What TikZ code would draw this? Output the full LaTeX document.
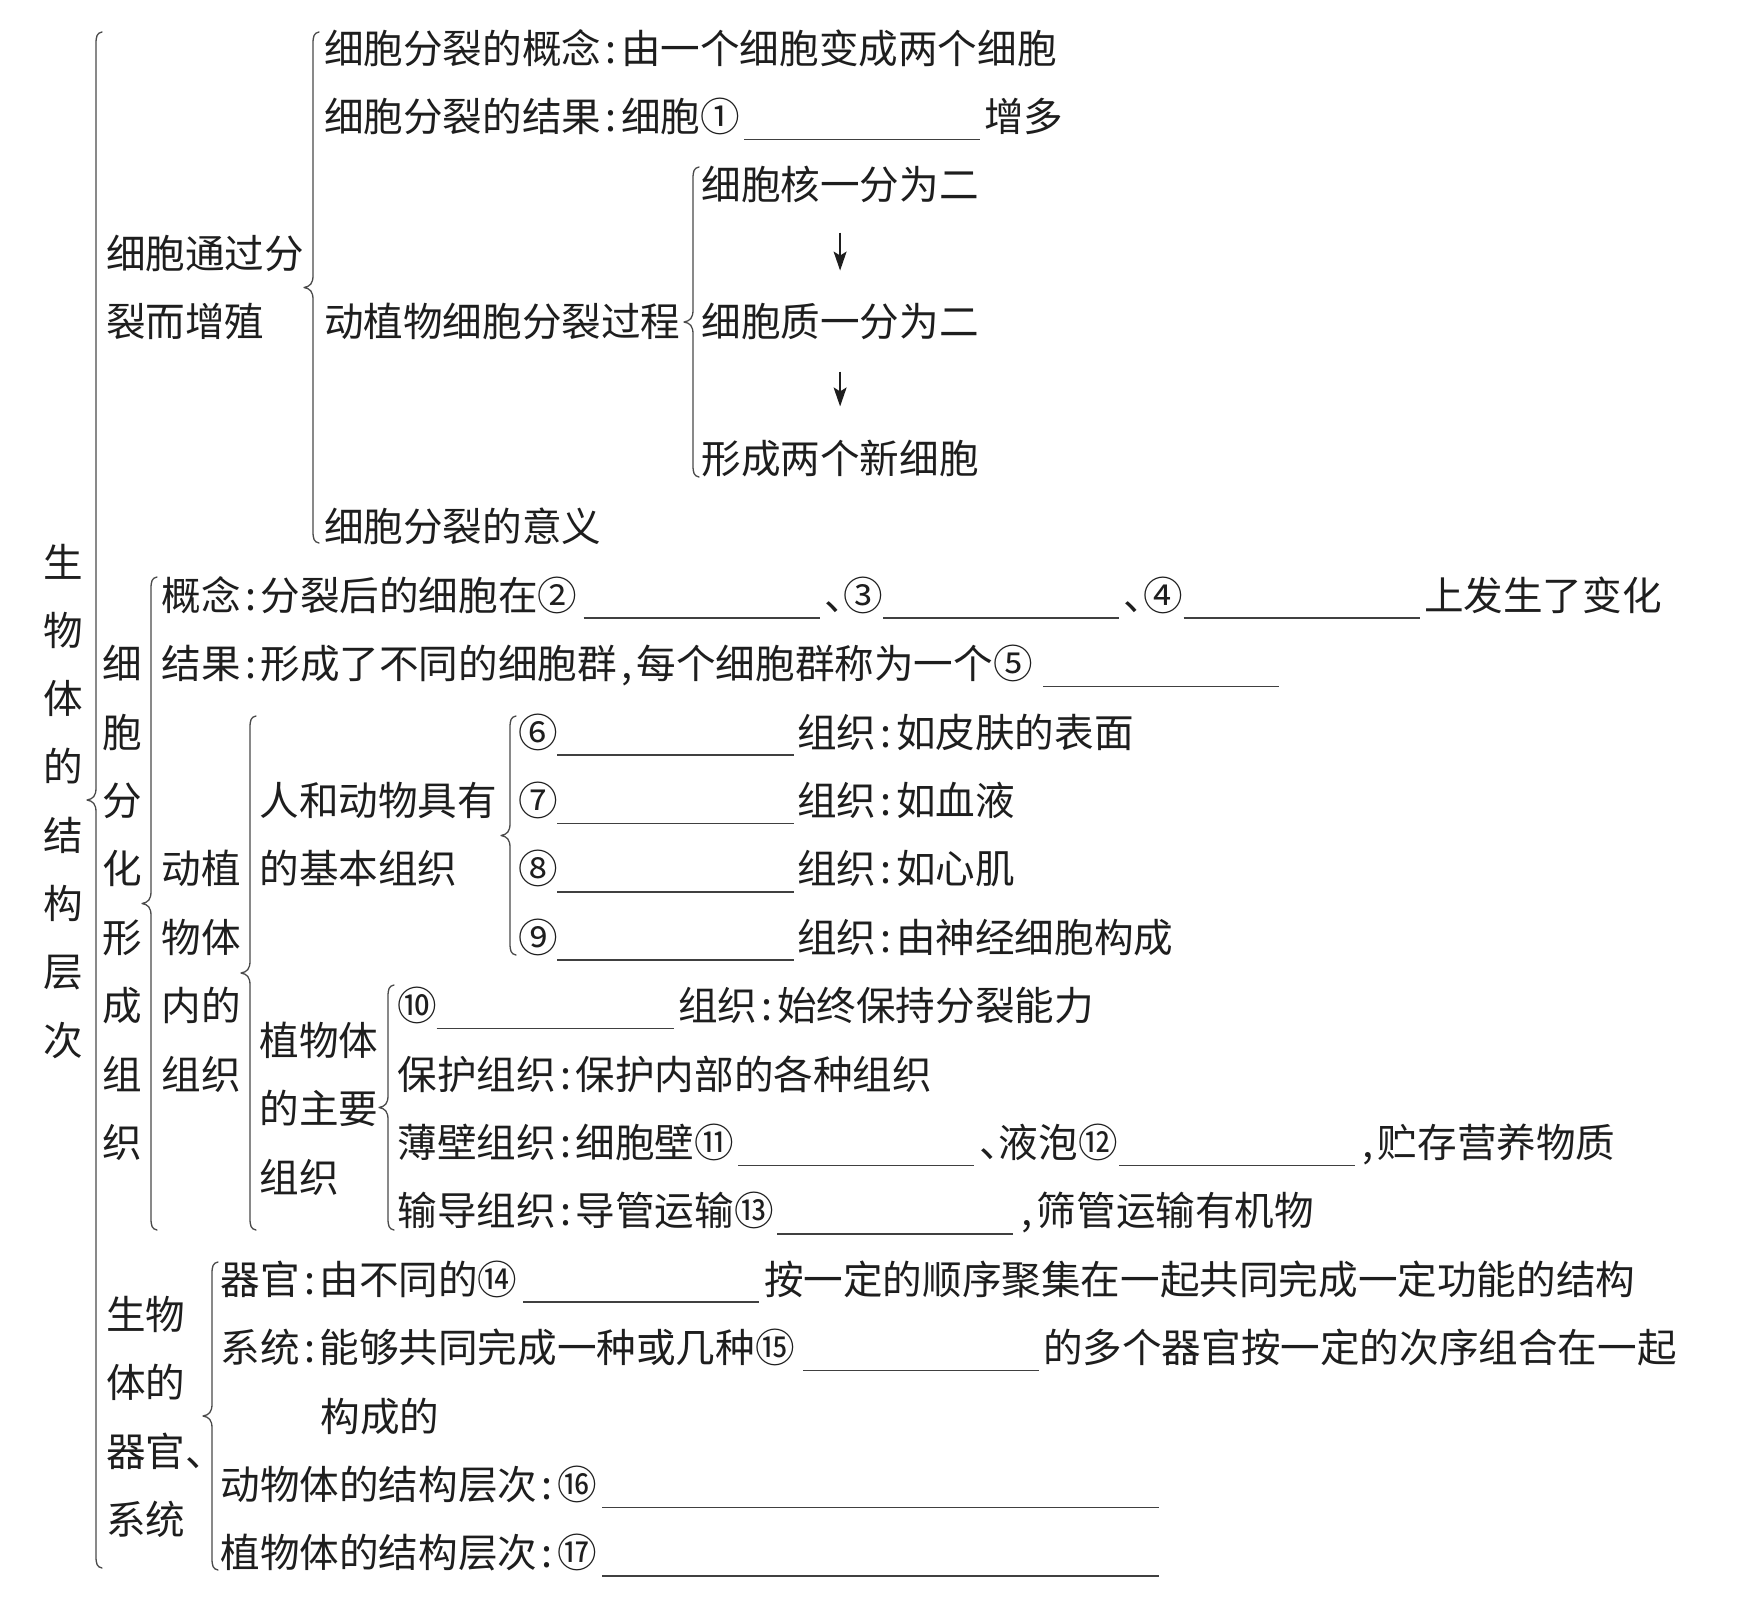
\documentclass[tikz,border=0pt]{standalone}
\usepackage{fontspec}
\setmainfont{Noto Sans CJK SC}
\usetikzlibrary{arrows.meta}
\definecolor{txt}{HTML}{1E1E1E}
\definecolor{brc}{HTML}{4A4A4A}
\newcommand\hw[1]{\makebox[0.5em]{#1}}
\newcommand\dn{\makebox[0.5em][l]{、}}
\newcommand\tx[4]{\node[tx] (#1) at (#2,#3+15) {#4};}
\newcommand\blank[3]{\draw[blankline] (#1,#3+23) -- (#2,#3+23);}
\newcommand\brc[3]{%
 \pgfmathsetmacro\bm{(#2+#3)/2}%
 \draw[bracepath] (#1+6,#2) .. controls (#1+1,#2+1) and (#1,#2+4) .. (#1,#2+12)
  -- (#1,\bm-12) .. controls (#1,\bm-4) and (#1-3,\bm-1) .. (#1-9,\bm)
  .. controls (#1-3,\bm+1) and (#1,\bm+4) .. (#1,\bm+12)
  -- (#1,#3-12) .. controls (#1,#3-4) and (#1+1,#3-1) .. (#1+6,#3);}
\begin{document}
\begin{tikzpicture}[x=1pt,y=-1pt,
  every node/.style={inner sep=0pt,outer sep=0pt,text=txt,font=\fontsize{39.6}{40}\selectfont},
  tx/.style={anchor=base west},
  vtx/.style={anchor=base},
  blankline/.style={draw=txt!85,line width=1.6pt},
  bracepath/.style={draw=brc,line width=1.3pt,line join=round,line cap=round},
  arr/.style={draw=txt,line width=1.5pt,-{Stealth[length=19pt,width=13pt,inset=4pt]}}]
\fill[white] (0,0) rectangle (1746,1601);
\useasboundingbox (0,0) rectangle (1746,1601);

% title column
\foreach \c [count=\i] in {生,物,体,的,结,构,层,次}
  \node[vtx] (t\i) at (63.5,{562+68.3*(\i-1)+15}) {\c};

% braces
\brc{96}{32}{1568}
\brc{313}{32}{543}
\brc{693}{167}{477}
\brc{151}{577}{1230}
\brc{250}{716}{1230}
\brc{510}{716}{955}
\brc{388}{985}{1230}
\brc{212}{1262}{1570}

% part 1
\tx{L1a}{106}{253.2}{细胞通过分}
\tx{L1b}{106}{321.6}{裂而增殖}
\tx{a1}{324}{48}{细胞分裂的概念\hw{:}由一个细胞变成两个细胞}
\tx{a2}{324}{116.4}{细胞分裂的结果\hw{:}细胞①}
\blank{744}{980}{116.4}
\tx{a2b}{984}{116.4}{增多}
\tx{a3}{324}{321.6}{动植物细胞分裂过程}
\tx{a4}{324}{526.8}{细胞分裂的意义}
\tx{p1}{701.5}{184.8}{细胞核一分为二}
\tx{p2}{701.5}{321.6}{细胞质一分为二}
\tx{p3}{701.5}{458.4}{形成两个新细胞}
\draw[arr,shorten <=48pt,shorten >=51pt] (p1.center) -- (p2.center);
\draw[arr,shorten <=50pt,shorten >=52pt] (p2.center) -- (p3.center);

% part 2
\foreach \c [count=\i] in {细,胞,分,化,形,成,组,织}
  \node[vtx] (s\i) at (122.5,{663.6+68.4*(\i-1)+15}) {\c};
\tx{c1}{161.5}{595.2}{概念\hw{:}分裂后的细胞在②}
\blank{583.5}{819.5}{595.2}
\tx{c1b}{824}{595.2}{\dn③}
\blank{883}{1119}{595.2}
\tx{c1c}{1123.5}{595.2}{\dn④}
\blank{1183.6}{1419.7}{595.2}
\tx{c1d}{1424}{595.2}{上发生了变化}
\tx{c2}{161.5}{663.6}{结果\hw{:}形成了不同的细胞群\hw{,}每个细胞群称为一个⑤}
\blank{1043}{1279}{663.6}

\tx{d1}{161.5}{868.8}{动植}
\tx{d2}{161.5}{937.2}{物体}
\tx{d3}{161.5}{1005.6}{内的}
\tx{d4}{161.5}{1074}{组织}

\tx{e1}{259.5}{800.4}{人和动物具有}
\tx{e2}{259.5}{868.8}{的基本组织}

\tx{f1}{518}{732}{⑥}
\blank{557}{794}{732}
\tx{f1b}{797}{732}{组织\hw{:}如皮肤的表面}
\tx{f2}{518}{800.4}{⑦}
\blank{557}{794}{800.4}
\tx{f2b}{797}{800.4}{组织\hw{:}如血液}
\tx{f3}{518}{868.8}{⑧}
\blank{557}{794}{868.8}
\tx{f3b}{797}{868.8}{组织\hw{:}如心肌}
\tx{f4}{518}{937.2}{⑨}
\blank{557}{794}{937.2}
\tx{f4b}{797}{937.2}{组织\hw{:}由神经细胞构成}

\tx{g1}{259.5}{1040}{植物体}
\tx{g2}{259.5}{1108}{的主要}
\tx{g3}{259.5}{1177}{组织}

\tx{h1}{397.5}{1005.6}{⑩}
\blank{436.5}{673.7}{1005.6}
\tx{h1b}{678}{1005.6}{组织\hw{:}始终保持分裂能力}
\tx{h2}{397.5}{1074}{保护组织\hw{:}保护内部的各种组织}
\tx{h3}{397.5}{1142.4}{薄壁组织\hw{:}细胞壁⑪}
\blank{738}{974}{1142.4}
\tx{h3b}{979}{1142.4}{\dn 液泡⑫}
\blank{1119}{1355}{1142.4}
\tx{h3c}{1358}{1142.4}{\hw{,}贮存营养物质}
\tx{h4}{397.5}{1210.8}{输导组织\hw{:}导管运输⑬}
\blank{777}{1013}{1210.8}
\tx{h4b}{1017}{1210.8}{\hw{,}筛管运输有机物}

% part 3
\tx{i1}{106}{1314}{生物}
\tx{i2}{106}{1382}{体的}
\tx{i3}{106}{1451}{器官、}
\tx{i4}{106}{1519}{系统}
\tx{j1}{220.5}{1279.2}{器官\hw{:}由不同的⑭}
\blank{523}{759}{1279.2}
\tx{j1b}{764}{1279.2}{按一定的顺序聚集在一起共同完成一定功能的结构}
\tx{j2}{220.5}{1347.6}{系统\hw{:}能够共同完成一种或几种⑮}
\blank{803}{1039}{1347.6}
\tx{j2b}{1043}{1347.6}{的多个器官按一定的次序组合在一起}
\tx{j2c}{320.7}{1416}{构成的}
\tx{j3}{220.5}{1484.4}{动物体的结构层次\hw{:}⑯}
\blank{602}{1159}{1484.4}
\tx{j4}{220.5}{1552.8}{植物体的结构层次\hw{:}⑰}
\blank{602}{1159}{1552.8}
\end{tikzpicture}
\end{document}
